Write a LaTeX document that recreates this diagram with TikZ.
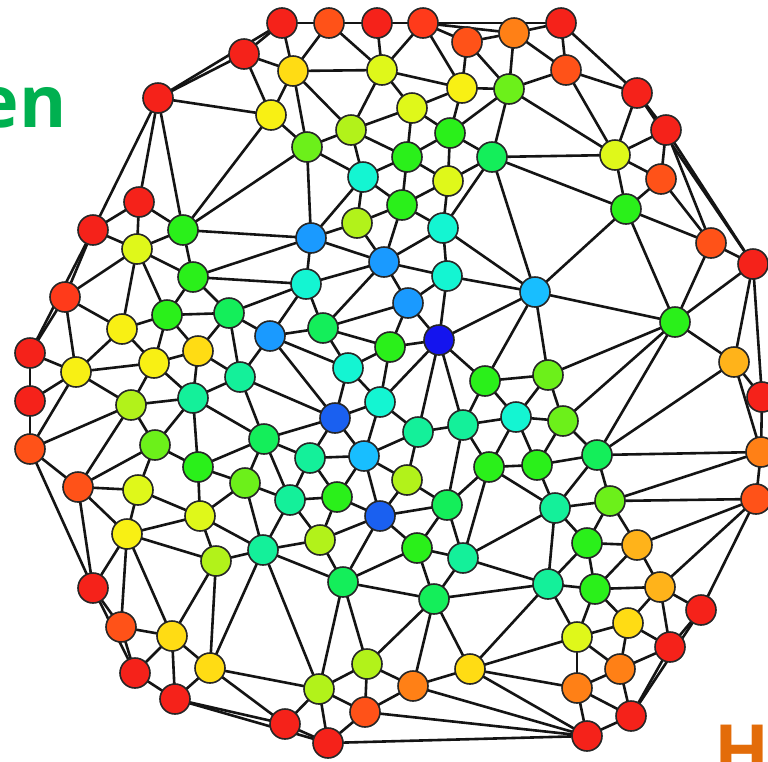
\documentclass[tikz,border=0pt]{standalone}
\usepackage{fontspec}
\newfontfamily\lblfont{Open Sans}
\usetikzlibrary{backgrounds}
\definecolor{cR}{HTML}{F5221A}
\definecolor{cRtwo}{HTML}{FF3A1A}
\definecolor{cOR}{HTML}{FF5218}
\definecolor{cO}{HTML}{FF8016}
\definecolor{cGo}{HTML}{FFB31A}
\definecolor{cGd}{HTML}{FFDC14}
\definecolor{cY}{HTML}{F8F014}
\definecolor{cYGa}{HTML}{DFF81A}
\definecolor{cYGb}{HTML}{B2F21A}
\definecolor{cLm}{HTML}{6CF01A}
\definecolor{cG}{HTML}{2AF01A}
\definecolor{cGC}{HTML}{14EE5A}
\definecolor{cCa}{HTML}{14F09A}
\definecolor{cCb}{HTML}{14F5D2}
\definecolor{cCB}{HTML}{18BEFF}
\definecolor{cB}{HTML}{1A9AFF}
\definecolor{cBb}{HTML}{1A60F0}
\definecolor{cBc}{HTML}{1414EE}
\definecolor{txtgreen}{HTML}{00B050}
\definecolor{txtorange}{HTML}{E36C09}
\tikzset{
  vtx/.style={circle, draw=black!85, line width=1.6pt, minimum size=30pt, inner sep=0pt},
  edge/.style={draw=black!92, line width=2.6pt},
  bigtext/.style={inner sep=0pt, font=\lblfont\bfseries\fontsize{72}{72}\selectfont}
}
\begin{document}
\begin{tikzpicture}[x=1pt, y=-1pt]
\useasboundingbox (0,0) rectangle (768,761);
\clip (0,0) rectangle (768,761);
\node[bigtext, text=txtgreen, anchor=base east] (tg) at (67,127) {en};
\node[bigtext, text=txtorange, anchor=base west] (to) at (714,776) {H};
\foreach \i/\x/\y/\c in {
1/282/23/cR, 2/329/23/cOR, 3/377/23/cR, 4/423/23/cRtwo, 5/467/42/cOR, 6/514/33/cO, 7/561/23/cR,
8/244/54/cR, 9/293/71/cGd, 10/382/70/cYGa, 11/462/88/cY, 12/509/89/cLm, 13/566/70/cOR,
14/158/98/cR, 15/271/115/cY, 16/351/130/cYGb, 17/412/108/cYGa, 18/450/133/cG, 19/492/157/cGC,
20/307/147/cLm, 21/407/157/cG, 22/448/181/cYGa, 23/363/177/cCb, 24/402/205/cG, 25/357/223/cYGb,
26/443/228/cCb, 27/615/155/cYGa, 28/637/93/cR, 29/666/130/cR, 30/661/179/cOR, 31/626/209/cG,
32/711/243/cOR, 33/753/264/cR, 34/139/202/cR, 35/93/230/cR, 36/183/230/cG, 37/137/249/cYGa,
38/193/277/cG, 39/311/238/cB, 40/384/262/cB, 41/447/276/cCb, 42/306/284/cCb, 43/408/303/cB,
44/535/292/cCB, 45/675/322/cG, 46/65/297/cRtwo, 47/122/329/cY, 48/167/315/cG, 49/229/313/cGC,
50/198/351/cGd, 51/270/336/cB, 52/323/328/cGC, 53/390/347/cG, 54/439/340/cBc, 55/30/353/cR,
56/76/372/cY, 57/154/363/cY, 58/240/377/cCa, 59/348/368/cCb, 60/485/381/cG, 61/548/375/cLm,
62/734/362/cGo, 63/762/397/cR, 64/30/401/cR, 65/131/405/cYGb, 66/193/398/cCa, 67/335/418/cBb,
68/380/402/cCb, 69/418/432/cCa, 70/463/425/cCa, 71/516/417/cCb, 72/563/421/cLm, 73/30/449/cOR,
74/155/445/cLm, 75/264/439/cGC, 76/310/458/cCa, 77/364/456/cCB, 78/407/480/cYGb, 79/489/467/cG,
80/537/465/cG, 81/597/455/cGC, 82/761/452/cO, 83/78/487/cOR, 84/138/490/cYGa, 85/198/467/cG,
86/245/483/cLm, 87/290/500/cCa, 88/337/497/cG, 89/380/516/cBb, 90/447/505/cGC, 91/555/508/cCa,
92/610/501/cLm, 93/756/499/cOR, 94/127/534/cY, 95/200/516/cYGa, 96/263/550/cCa, 97/320/540/cYGb,
98/417/548/cG, 99/463/558/cCa, 100/587/543/cG, 101/637/545/cGo, 102/216/561/cYGb, 103/93/588/cR,
104/343/582/cGC, 105/434/599/cGC, 106/548/584/cCa, 107/595/589/cG, 108/660/587/cGo, 109/701/610/cR,
110/121/627/cOR, 111/172/636/cGd, 112/628/623/cGd, 113/577/637/cYGa, 114/670/647/cR, 115/135/673/cR,
116/210/668/cGd, 117/367/664/cYGb, 118/413/686/cO, 119/470/669/cGd, 120/319/689/cYGb, 121/620/669/cO,
122/577/688/cO, 123/175/699/cR, 124/285/724/cR, 125/365/712/cOR, 126/631/716/cR, 127/587/736/cR,
128/328/743/cR}
  \node[vtx, fill=\c] (n\i) at (\x,\y) {};
\begin{pgfonlayer}{background}
\fill[white] (0,0) rectangle (768,761);
\foreach \a/\b in {
1/2, 1/8, 1/9, 1/14, 2/3, 2/9, 2/10, 3/4, 3/10, 4/5, 4/6, 4/7, 4/10, 4/11,
5/6, 5/11, 5/12, 6/7, 6/12, 6/13, 7/13, 7/28, 8/14, 8/15, 8/9,
9/10, 9/15, 9/16, 9/20, 10/11, 10/16, 10/17, 11/12, 11/17, 11/18,
12/13, 12/18, 12/19, 12/27, 13/27, 13/28, 14/15, 14/34, 14/35, 14/36,
15/20, 15/36, 16/17, 16/20, 16/21, 16/23, 17/18, 17/21, 18/19, 18/21, 18/22,
19/22, 19/26, 19/27, 19/31, 19/44, 20/23, 20/36, 20/39, 21/22, 21/23, 21/24,
22/24, 22/26, 23/24, 23/25, 23/39, 24/25, 24/26, 24/40, 25/39, 25/40,
26/40, 26/41, 26/44, 27/28, 27/29, 27/30, 27/31, 28/29, 28/33,
29/30, 29/32, 29/33, 30/31, 30/32, 31/32, 31/44, 31/45, 32/33, 32/45,
33/45, 33/62, 33/63, 34/35, 34/36, 34/37, 35/37, 35/46, 35/55,
36/37, 36/38, 36/39, 37/38, 37/46, 37/47, 37/48, 38/39, 38/42, 38/48, 38/49,
39/40, 39/42, 40/41, 40/42, 40/43, 40/52, 41/43, 41/44, 41/54,
42/49, 42/51, 42/52, 43/52, 43/53, 43/54, 44/45, 44/54, 44/60, 44/61,
45/61, 45/62, 45/72, 45/81, 46/47, 46/55, 46/56, 47/48, 47/56, 47/57,
48/49, 48/50, 48/57, 49/50, 49/51, 49/58, 50/57, 50/58, 50/66,
51/52, 51/58, 51/59, 51/67, 52/53, 52/59, 53/54, 53/59, 53/68,
54/60, 54/68, 54/69, 54/70, 55/56, 55/64, 56/57, 56/64, 56/65, 56/73,
57/65, 57/66, 58/66, 58/67, 58/75, 59/67, 59/68, 60/61, 60/70, 60/71,
61/71, 61/72, 62/63, 62/81, 62/82, 63/82, 64/73,
65/66, 65/73, 65/74, 65/83, 66/74, 66/75, 66/85,
67/68, 67/75, 67/76, 67/77, 68/69, 68/77, 69/70, 69/77, 69/78,
70/71, 70/79, 70/90, 71/72, 71/79, 71/80, 72/80, 72/81, 73/83, 73/103,
74/83, 74/84, 74/85, 75/76, 75/85, 75/86, 75/87, 76/77, 76/87, 76/88,
77/78, 77/88, 77/89, 78/89, 78/90, 79/80, 79/90, 79/91, 79/99, 80/81, 80/91,
81/82, 81/91, 81/92, 82/92, 82/93, 83/84, 83/94, 83/103, 84/94, 84/95,
85/86, 85/95, 86/87, 86/95, 86/96, 87/88, 87/96, 87/97, 88/89, 88/97,
89/90, 89/97, 89/98, 89/104, 90/98, 90/99, 91/92, 91/99, 91/100, 91/106,
92/93, 92/100, 92/101, 93/101, 93/108, 93/109,
94/95, 94/102, 94/103, 94/110, 94/111, 95/96, 95/102,
96/97, 96/102, 96/104, 96/116, 96/120, 97/104, 98/99, 98/104, 98/105,
99/105, 99/106, 100/101, 100/106, 100/107, 101/107, 101/108,
102/111, 102/116, 103/110, 103/115, 104/105, 104/117, 104/120,
105/106, 105/117, 105/118, 105/119, 106/107, 106/113, 106/119,
107/108, 107/112, 107/113, 108/109, 108/112, 108/114, 109/114, 109/126,
110/111, 110/115, 111/115, 111/116, 111/123, 112/113, 112/114, 112/121,
113/119, 113/121, 113/122, 114/121, 114/126, 115/123,
116/120, 116/123, 116/124, 117/118, 117/120, 117/125, 118/119, 118/125, 118/127,
119/122, 119/127, 120/124, 120/125, 120/128, 121/122, 121/126,
122/126, 122/127, 123/124, 123/128, 124/128, 125/127, 125/128, 126/127, 127/128}
  \draw[edge] (n\a.center) -- (n\b.center);
\end{pgfonlayer}
\end{tikzpicture}
\end{document}
